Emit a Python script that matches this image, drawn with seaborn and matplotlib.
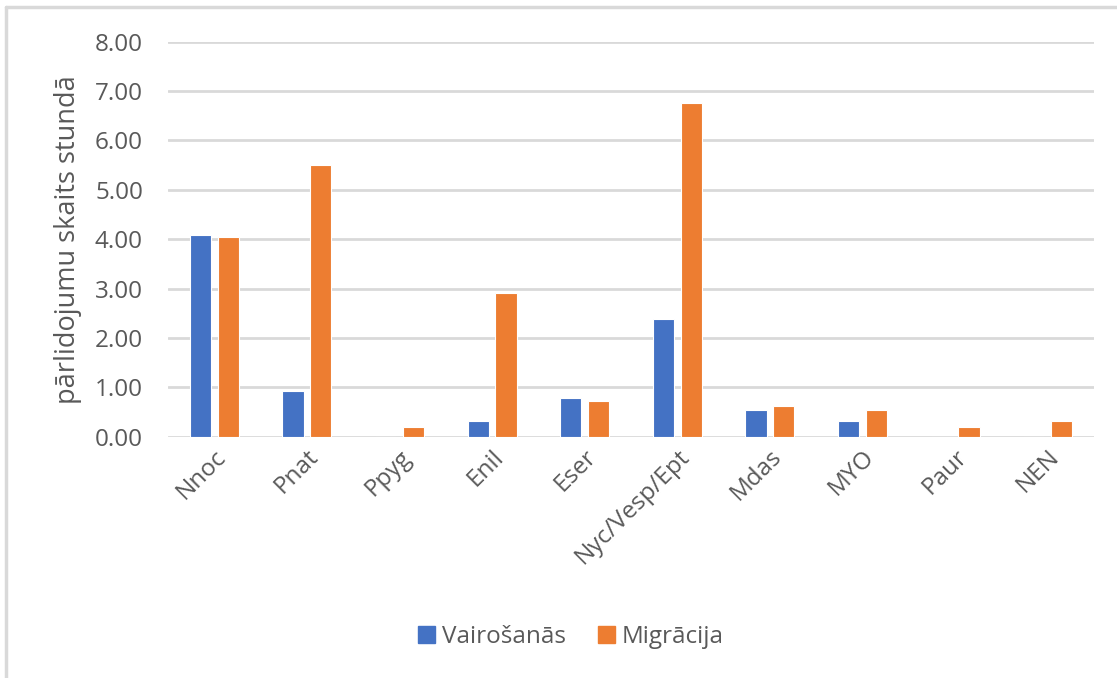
import matplotlib
matplotlib.use('Agg')
import matplotlib.pyplot as plt
from matplotlib.lines import Line2D
import seaborn as sns
import pandas as pd

categories = ["Nnoc", "Pnat", "Ppyg", "Enil", "Eser", "Nyc/Vesp/Ept", "Mdas", "MYO", "Paur", "NEN"]
vairosanas = [4.08, 0.93, 0.0, 0.32, 0.78, 2.38, 0.53, 0.32, 0.0, 0.0]
migracija = [4.05, 5.51, 0.20, 2.90, 0.72, 6.75, 0.63, 0.53, 0.20, 0.32]
series_names = ["Vairošanās", "Migrācija"]
colors = ["#4472C4", "#ED7D31"]

df = pd.DataFrame({
    "cat": categories * 2,
    "val": vairosanas + migracija,
    "series": [series_names[0]] * len(categories) + [series_names[1]] * len(categories),
})

sns.set_style("white")
plt.rcParams['font.family'] = ['Open Sans', 'DejaVu Sans']
text_col = "#595959"
grid_col = "#D9D9D9"

fig = plt.figure(figsize=(11.17, 6.78), dpi=100)
ax = fig.add_axes([0.1504, 0.356, 0.829, 0.5825])

sns.barplot(data=df, x="cat", y="val", hue="series", palette=colors, saturation=1,
            width=0.6, gap=0.24, errorbar=None, edgecolor="white",
            linewidth=0.8, ax=ax, legend=False, zorder=3)

ax.set_ylim(0, 8)
ax.set_xlim(-0.5, len(categories) - 0.5)
ax.set_yticks(range(0, 9))
ax.set_yticklabels([f"{v:.2f}" for v in range(0, 9)])
ax.yaxis.grid(True, color=grid_col, linewidth=2, zorder=0)
ax.set_axisbelow(True)
for s in ax.spines.values():
    s.set_visible(False)
ax.tick_params(axis='both', length=0, colors=text_col, labelsize=17.5)
ax.tick_params(axis='y', pad=18)
ax.tick_params(axis='x', pad=6)
plt.setp(ax.get_xticklabels(), rotation=45, ha='right', rotation_mode='anchor')
ax.set_xlabel("")
ax.set_ylabel("pārlidojumu skaits stundā", fontsize=19.5, color=text_col, labelpad=9)

handles = [plt.Rectangle((0, 0), 1, 1, color=c) for c in colors]
fig.legend(handles, series_names, loc='center', bbox_to_anchor=(0.511, 0.061),
           ncol=2, frameon=False, fontsize=17.5, labelcolor=text_col,
           handlelength=0.7, handleheight=0.7, handletextpad=0.3, columnspacing=1.3)

# chart area border (Excel-style frame, only top/left visible)
fig.add_artist(Line2D([6 / 1117, 1], [1 - 7 / 678, 1 - 7 / 678], color="#D9D9D9", lw=2.5))
fig.add_artist(Line2D([6 / 1117, 6 / 1117], [0, 1 - 7 / 678], color="#D9D9D9", lw=2.5))

fig.savefig("out.png", dpi=100)
